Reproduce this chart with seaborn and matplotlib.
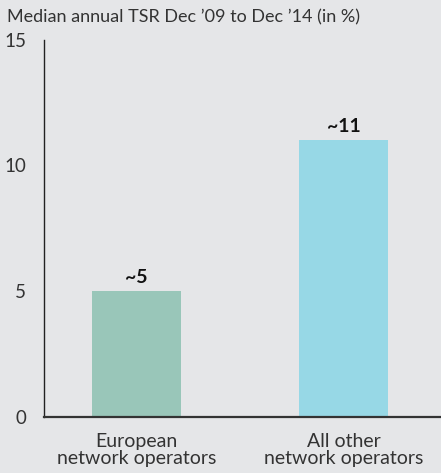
import numpy as np
import pandas as pd
import matplotlib
matplotlib.use("Agg")
import matplotlib.pyplot as plt
import seaborn as sns

# data
categories = ["European\nnetwork operators", "All other\nnetwork operators"]
values = [5, 11]
value_labels = ["~5", "~11"]
bar_colors = ["#99c6b9", "#97d8e6"]
y_ticks = [0, 5, 10, 15]

title = "Median annual TSR Dec \u201909 to Dec \u201914 (in %)"

bg = "#e5e6e8"

sns.set_theme(style="white")
plt.rcParams["font.family"] = ["Lato", "DejaVu Sans"]

df = pd.DataFrame({"category": categories, "value": values})

fig = plt.figure(figsize=(4.41, 4.73), dpi=100, facecolor=bg)
ax = fig.add_axes([44 / 441, 56.3 / 473, 397 / 441, 377 / 473])
ax.set_facecolor(bg)

sns.barplot(data=df, x="category", y="value", hue="category",
            palette=bar_colors, width=0.43, saturation=1,
            linewidth=0, legend=False, ax=ax)

for i, (v, lab) in enumerate(zip(values, value_labels)):
    ax.text(i, v + 0.22, lab, ha="center", va="bottom",
            fontsize=14, fontweight="bold", color="#111111")

ax.set_ylim(0, 15)
ax.set_xlim(-0.447, 1.471)
ax.set_yticks(y_ticks)
ax.set_yticklabels([str(t) for t in y_ticks], fontsize=13.5, color="#333333")
ax.tick_params(axis="y", length=0, pad=13)
ax.tick_params(axis="x", length=0, pad=12)
for lab in ax.get_xticklabels():
    lab.set_fontsize(14)
    lab.set_color("#333333")
    lab.set_linespacing(0.95)
ax.set_xlabel("")
ax.set_ylabel("")

for side in ["top", "right"]:
    ax.spines[side].set_visible(False)
ax.spines["left"].set_color("#222222")
ax.spines["left"].set_linewidth(1.0)
ax.spines["bottom"].set_color("#333333")
ax.spines["bottom"].set_linewidth(1.6)

fig.text(7 / 441, 1 - 9 / 473, title, ha="left", va="top",
         fontsize=13, color="#333333")

fig.savefig("out.png", dpi=100, facecolor=bg)
